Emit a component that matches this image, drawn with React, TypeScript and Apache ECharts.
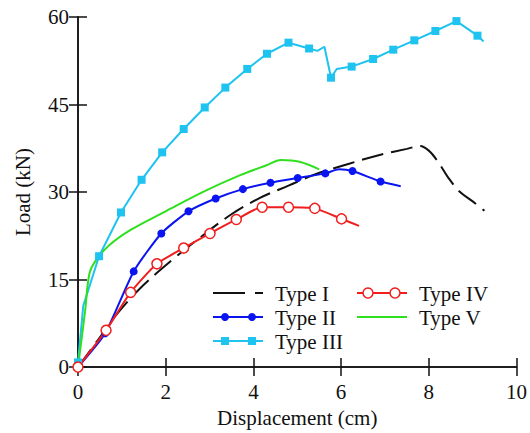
import React, { useEffect, useRef } from "react";
import * as echarts from "echarts";

// ---- data (displacement in cm, load in kN) ----
const typeIX = [0, 0.45, 0.9, 1.5, 2.2, 2.8, 3.5, 4.15, 4.8, 5.4, 6.2, 6.9, 7.5, 7.8, 8.0, 8.2, 8.45, 8.7, 9.0, 9.27];
const typeIY = [0, 4.6, 9.2, 14.1, 18.7, 22.3, 26.2, 29.0, 31.1, 33.0, 34.9, 36.4, 37.4, 37.9, 37.1, 35.3, 32.4, 30.1, 28.4, 26.8];

const typeIIX = [0, 0.62, 1.27, 1.9, 2.52, 3.14, 3.76, 4.39, 5.01, 5.64, 5.95, 6.26, 6.9, 7.36];
const typeIIY = [0, 5.8, 16.4, 22.9, 26.7, 28.9, 30.5, 31.6, 32.4, 33.2, 33.9, 33.6, 31.8, 31.0];
const typeIIMarked = [1, 1, 1, 1, 1, 1, 1, 1, 1, 1, 0, 1, 1, 0];

const typeIIIX = [0, 0.12, 0.48, 0.98, 1.45, 1.92, 2.41, 2.89, 3.36, 3.86, 4.31, 4.8, 5.27, 5.46, 5.62, 5.77, 5.9, 6.24, 6.73, 7.19, 7.67, 8.15, 8.63, 9.11, 9.25];
const typeIIIY = [0.8, 10.5, 19.0, 26.5, 32.1, 36.8, 40.8, 44.5, 47.9, 51.1, 53.7, 55.6, 54.6, 54.2, 54.9, 49.6, 51.1, 51.5, 52.8, 54.4, 56.0, 57.6, 59.3, 56.8, 55.8];
const typeIIIMarked = [1, 0, 1, 1, 1, 1, 1, 1, 1, 1, 1, 1, 1, 0, 0, 1, 0, 1, 1, 1, 1, 1, 1, 1, 0];

const typeIVX = [0, 0.64, 1.2, 1.8, 2.41, 3.01, 3.61, 4.2, 4.8, 5.4, 6.01, 6.41];
const typeIVY = [0, 6.3, 12.8, 17.7, 20.4, 22.9, 25.3, 27.4, 27.4, 27.2, 25.4, 24.2];
const typeIVMarked = [1, 1, 1, 1, 1, 1, 1, 1, 1, 1, 1, 0];

const typeVX = [0, 0.16, 0.26, 0.4, 0.7, 1.2, 2.0, 2.9, 3.7, 4.3, 4.63, 5.05, 5.5];
const typeVY = [0, 9.5, 16.0, 18.2, 20.8, 23.5, 26.7, 30.2, 32.9, 34.6, 35.5, 35.2, 33.9];

const seriesNames = ["Type I", "Type II", "Type III", "Type IV", "Type V"];
const xTicks = { min: 0, max: 10, interval: 2 };
const yTicks = { min: 0, max: 60, interval: 15 };

const FONT = "Liberation Serif, serif";
const C_BLACK = "#111111";
const C_BLUE = "#0a14f0";
const C_CYAN = "#1ec3f0";
const C_RED = "#f01e1e";
const C_GREEN = "#2ee01e";

function pts(xs: number[], ys: number[], marked?: number[]) {
  return xs.map((x, i) =>
    marked && !marked[i] ? { value: [x, ys[i]], symbol: "none" } : { value: [x, ys[i]] }
  );
}

export default function App() {
  const ref = useRef<HTMLDivElement>(null);
  useEffect(() => {
    document.body.style.margin = "0";
    const chart = echarts.init(ref.current!, undefined, { renderer: "svg" });
    const axisLine = { show: true, lineStyle: { color: C_BLACK, width: 1.5 } };
    const tick = { show: true, inside: true, length: 9, lineStyle: { color: C_BLACK, width: 1.5 } };
    const lbl = { color: C_BLACK, fontFamily: FONT, fontSize: 21 };

    const legendText = (x: number, y: number, t: string) => ({
      type: "text",
      x,
      y,
      style: { text: t, fill: C_BLACK, fontFamily: FONT, fontSize: 21, verticalAlign: "middle" },
    });
    const legendLine = (x1: number, x2: number, y: number, color: string, dash?: number[]) => ({
      type: "line",
      shape: { x1, y1: y, x2, y2: y },
      style: { stroke: color, lineWidth: 2, lineDash: dash },
    });

    chart.setOption({
      animation: false,
      grid: { left: 78, right: 12, top: 17, bottom: 60 },
      xAxis: [
        {
          type: "value",
          ...xTicks,
          name: "Displacement (cm)",
          nameLocation: "middle",
          nameGap: 36,
          nameTextStyle: { ...lbl },
          axisLine,
          axisTick: tick,
          axisLabel: { ...lbl, margin: 14 },
          splitLine: { show: false },
        },
        {
          type: "value",
          position: "top",
          ...xTicks,
          axisLine,
          axisTick: tick,
          axisLabel: { show: false },
          splitLine: { show: false },
        },
      ],
      yAxis: [
        {
          type: "value",
          ...yTicks,
          name: "Load (kN)",
          nameLocation: "middle",
          nameGap: 45,
          nameTextStyle: { ...lbl },
          axisLine,
          axisTick: tick,
          axisLabel: { ...lbl, margin: 9 },
          splitLine: { show: false },
        },
        {
          type: "value",
          position: "right",
          ...yTicks,
          axisLine,
          axisTick: tick,
          axisLabel: { show: false },
          splitLine: { show: false },
        },
      ],
      series: [
        {
          name: seriesNames[2],
          type: "line",
          data: pts(typeIIIX, typeIIIY, typeIIIMarked),
          symbol: "rect",
          symbolSize: 8,
          itemStyle: { color: C_CYAN },
          lineStyle: { color: C_CYAN, width: 2 },
        },
        {
          name: seriesNames[4],
          type: "line",
          data: pts(typeVX, typeVY),
          symbol: "none",
          smooth: 0.35,
          lineStyle: { color: C_GREEN, width: 2 },
          itemStyle: { color: C_GREEN },
        },
        {
          name: seriesNames[0],
          type: "line",
          data: pts(typeIX, typeIY),
          symbol: "none",
          smooth: 0.35,
          lineStyle: { color: C_BLACK, width: 2, type: [22, 8] },
          itemStyle: { color: C_BLACK },
        },
        {
          name: seriesNames[1],
          type: "line",
          data: pts(typeIIX, typeIIY, typeIIMarked),
          symbol: "circle",
          symbolSize: 8,
          smooth: 0.2,
          itemStyle: { color: C_BLUE },
          lineStyle: { color: C_BLUE, width: 2 },
        },
        {
          name: seriesNames[3],
          type: "line",
          data: pts(typeIVX, typeIVY, typeIVMarked),
          symbol: "circle",
          symbolSize: 10,
          smooth: 0.2,
          itemStyle: { color: "#ffffff", borderColor: C_RED, borderWidth: 1.5 },
          lineStyle: { color: C_RED, width: 2 },
        },
      ],
      graphic: [
        legendLine(213, 263, 293, C_BLACK, [32, 10]),
        legendText(275, 294, seriesNames[0]),
        legendLine(213, 263, 317, C_BLUE),
        { type: "circle", shape: { cx: 225, cy: 317, r: 4 }, style: { fill: C_BLUE } },
        { type: "circle", shape: { cx: 252, cy: 317, r: 4 }, style: { fill: C_BLUE } },
        legendText(275, 318, seriesNames[1]),
        legendLine(213, 263, 341, C_CYAN),
        { type: "rect", shape: { x: 221, y: 337, width: 8, height: 8 }, style: { fill: C_CYAN } },
        { type: "rect", shape: { x: 248, y: 337, width: 8, height: 8 }, style: { fill: C_CYAN } },
        legendText(275, 342, seriesNames[2]),
        legendLine(357, 407, 293, C_RED),
        { type: "circle", shape: { cx: 368, cy: 293, r: 5 }, style: { fill: "#fff", stroke: C_RED, lineWidth: 1.5 } },
        { type: "circle", shape: { cx: 395, cy: 293, r: 5 }, style: { fill: "#fff", stroke: C_RED, lineWidth: 1.5 } },
        legendText(419, 294, seriesNames[3]),
        legendLine(357, 407, 317, C_GREEN),
        legendText(419, 318, seriesNames[4]),
      ],
    });
    return () => chart.dispose();
  }, []);
  return <div ref={ref} style={{ width: 530, height: 433 }} />;
}
